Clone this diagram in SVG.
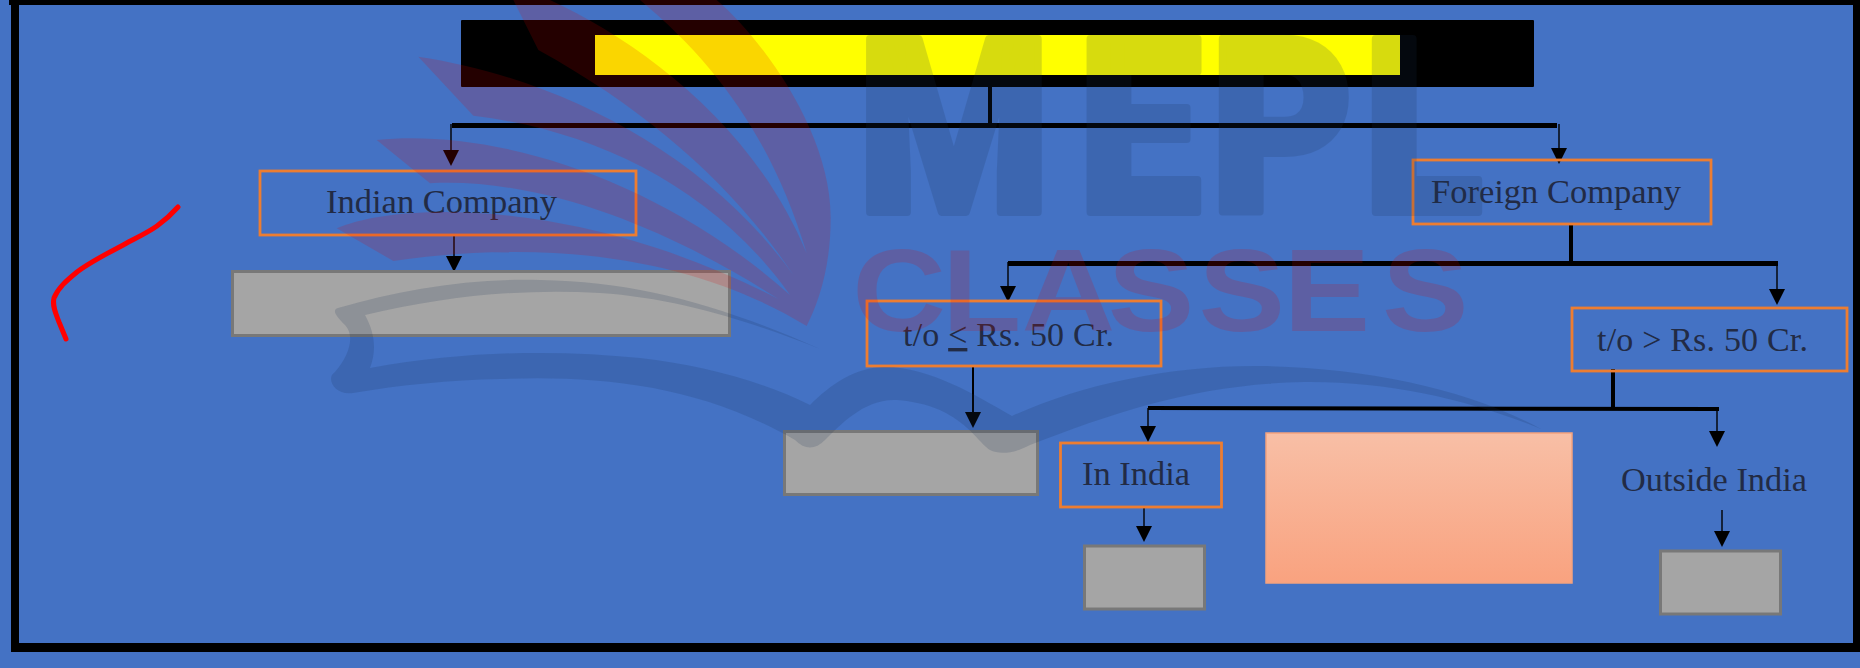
<svg xmlns="http://www.w3.org/2000/svg" width="1860" height="668" viewBox="0 0 1860 668">
<style>
.bg{fill:#4472C4}
.o{fill:none;stroke:#ED7D31;stroke-width:2.8}
.g{fill:#A5A5A5;stroke:#787878;stroke-width:3}
.t{font-family:"Liberation Serif","Times New Roman",serif;font-size:34px;fill:#222B45}
.bar{fill:#000}
.c{stroke:#000;stroke-width:1.4;fill:none;marker-end:url(#ah)}
.wb{fill:#1A3152;opacity:.17}
.wr{fill:#E00000;opacity:.16}
</style>
<defs>
<marker id="ah" markerUnits="userSpaceOnUse" markerWidth="18" markerHeight="18" refX="0" refY="8" orient="auto"><path d="M0,0L16,8L0,16Z" fill="#000"/></marker>
<linearGradient id="peach" x1="0" y1="0" x2="0" y2="1"><stop offset="0" stop-color="#F8BFA6"/><stop offset="1" stop-color="#F9A27F"/></linearGradient>
</defs>
<rect class="bg" width="1860" height="668"/>
<g id="frame">
<rect class="bar" x="9" y="0" width="1851" height="5"/>
<rect class="bar" x="11" y="0" width="8" height="652"/>
<rect class="bar" x="11" y="643" width="1849" height="9"/>
<rect class="bar" x="1853" y="0" width="7" height="652"/>
</g>
<g id="title"><rect x="461" y="20" width="1073" height="67" rx="1" fill="#000"/><rect x="595" y="35" width="805" height="40" fill="#FFFF00"/></g>
<g id="connectors">
<rect class="bar" x="988" y="87" width="4" height="37"/>
<rect class="bar" x="452" y="123" width="1105" height="5"/>
<path class="c" d="M451,124V150"/>
<path class="c" d="M1559,124V148"/>
<path class="c" d="M454,235V256"/>
<rect class="bar" x="1569" y="225" width="4" height="37"/>
<rect class="bar" x="1008" y="261" width="770" height="5"/>
<path class="c" d="M1008,262V286"/>
<path class="c" d="M1777,262V289"/>
<path class="c" style="stroke-width:2" d="M973,366V412"/>
<rect class="bar" x="1611" y="369" width="4" height="40"/>
<path class="bar" d="M1148,406L1719,407V411L1148,410Z"/>
<path class="c" d="M1148,408V426"/>
<path class="c" d="M1717,409V431"/>
<path class="c" d="M1144,507V526"/>
<path class="c" d="M1722,510V531"/>
</g>
<g id="indian"><rect class="o" x="260" y="171" width="376" height="64"/><text class="t" x="326" y="213" textLength="231" lengthAdjust="spacingAndGlyphs">Indian Company</text></g>
<g id="indian-result"><rect class="g" x="232.500" y="271.500" width="497" height="64"/></g>
<g id="foreign"><rect class="o" x="1413" y="160" width="298" height="64"/><text class="t" x="1431" y="203" textLength="250" lengthAdjust="spacingAndGlyphs">Foreign Company</text></g>
<g id="to-low"><rect class="o" x="867" y="301" width="294" height="65"/><text class="t" x="903" y="346" textLength="211" lengthAdjust="spacing">t/o <tspan text-decoration="underline">&lt;</tspan> Rs. 50 Cr.</text></g>
<g id="to-high"><rect class="o" x="1572" y="308" width="275" height="63"/><text class="t" x="1597" y="351" textLength="211" lengthAdjust="spacing">t/o &gt; Rs. 50 Cr.</text></g>
<g id="low-result"><rect class="g" x="784.500" y="431.500" width="253" height="63"/></g>
<g id="in-india"><rect class="o" x="1060.500" y="443" width="161" height="64"/><text class="t" x="1082" y="485" textLength="108" lengthAdjust="spacingAndGlyphs">In India</text></g>
<g id="india-result"><rect class="g" x="1084.500" y="546" width="120" height="63"/></g>
<g id="peach-box"><rect x="1266" y="433" width="306" height="150" fill="url(#peach)" stroke="#F4A27E" stroke-width="1.500"/></g>
<g id="outside"><text class="t" x="1621" y="491" textLength="186" lengthAdjust="spacingAndGlyphs">Outside India</text></g>
<g id="outside-result"><rect class="g" x="1660.500" y="551" width="120" height="63"/></g>
<path id="pen" d="M178,207C170,216 164,221 157,226C147,233 136,238 125,244C108,253 90,262 77,272C66,281 58,288 54,298C52,306 56,314 59,322L66,339" fill="none" stroke="#FF0000" stroke-width="5" stroke-linecap="round" stroke-linejoin="round"/>
<g id="watermark">
<path class="wr" transform="translate(320,0) scale(.33333)" d="M960,0L1190,0C1330,120 1532,400 1532,650C1533,790 1500,900 1460,978C1200,820 800,700 220,783L50,685C250,600 800,600 1375,897C1100,720 700,530 330,550L170,420C500,385 1000,520 1410,885C1180,560 820,390 460,347L295,170C700,230 1150,450 1420,825C1250,570 1000,340 655,150L580,0L690,0C950,120 1300,370 1460,760C1360,430 1200,200 960,0Z"/>
<path class="wb" d="M338,308C400,290 470,278 540,280C640,282 720,305 820,349C760,325 680,298 600,293C520,288 440,297 365,315C376,335 376,352 370,368C470,350 560,350 640,358C700,365 760,380 810,405C830,385 855,367 885,367C930,367 975,395 1012,416C1080,385 1170,365 1262,366C1370,368 1470,390 1541,429C1470,400 1390,381 1304,382C1200,384 1120,410 1030,445C1015,453 1000,455 990,450C975,440 960,405 897,400C865,398 840,425 825,440C815,450 805,450 795,440C700,385 600,375 500,379C450,380 400,385 353,393C335,396 325,378 335,372C350,355 355,335 345,325C335,315 332,310 338,308Z"/>
<text class="wb" transform="scale(.9,1)" x="953 1198 1345 1515" y="212" font-family="Roboto,'Liberation Sans',sans-serif" font-weight="900" font-size="244" stroke="#1A3152" stroke-width="8" stroke-linejoin="round">MEPL</text>
<text class="wr" transform="scale(1.12,1)" x="761 841 912 989 1070 1146 1234" y="331" font-family="'Liberation Sans',Arial,sans-serif" font-weight="700" font-size="116">CLASSES</text>
</g>
</svg>
